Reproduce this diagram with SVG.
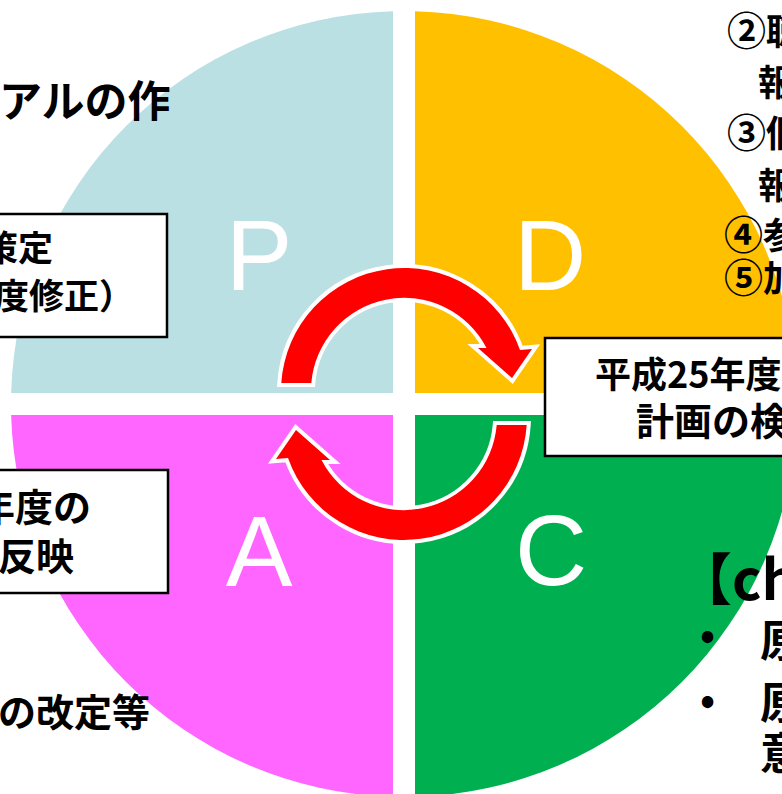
<svg xmlns="http://www.w3.org/2000/svg" width="782" height="794" viewBox="0 0 782 794">
<style>
.q{stroke:none}
.big{font-family:"Liberation Sans",Arial,sans-serif;font-size:100px;fill:#fff}
.jp{font-family:"Noto Sans CJK JP","Noto Sans",sans-serif;font-weight:700;fill:#000}
.num{font-size:39px}
.box{fill:#fff;stroke:#000;stroke-width:2.5}
.arrow{fill:#f00;stroke:#fff;stroke-width:8;stroke-linejoin:miter;paint-order:stroke}
</style>
<rect width="782" height="794" fill="#fff"/>
<g id="quadrant-p">
<path class="q" fill="#bbe0e3" d="M393 393 L393 11.15 A393 393 0 0 0 11.15 393 Z"/>
<text class="big" x="259" y="290" text-anchor="middle">P</text>
</g>
<g id="quadrant-d">
<path class="q" fill="#ffc000" d="M415 393 L415 11.15 A393 393 0 0 1 796.85 393 Z"/>
<text class="big" x="550" y="290" text-anchor="middle">D</text>
</g>
<g id="quadrant-c">
<path class="q" fill="#00b050" d="M415 415 L796.85 415 A393 393 0 0 1 415 796.85 Z"/>
<text class="big" x="551" y="585" text-anchor="middle">C</text>
</g>
<g id="quadrant-a">
<path class="q" fill="#ff66ff" d="M393 415 L393 796.85 A393 393 0 0 1 11.15 415 Z"/>
<text class="big" x="259" y="586" text-anchor="middle">A</text>
</g>
<g id="connectors">
<path class="arrow" d="M526.7 425 A123 123 0 0 1 288 458 L276 459 L296 430 L330 460 L321.5 460 A93 93 0 0 0 496.7 425 Z"/>
<path class="arrow" transform="rotate(180 404 404)" d="M526.7 425 A123 123 0 0 1 288 458 L276 459 L296 430 L330 460 L321.5 460 A93 93 0 0 0 496.7 425 Z"/>
</g>
<g id="plan-notes">
<text class="jp" x="-1" y="117" font-size="43">アルの作</text>
</g>
<g id="plan-box">
<rect class="box" x="-10" y="214" width="177" height="123"/>
<text class="jp" x="-17" y="261" font-size="35">策定</text>
<text class="jp" x="-6" y="309" font-size="35">度修正）</text>
</g>
<g id="act-box">
<rect class="box" x="-10" y="470" width="178" height="123"/>
<text class="jp" x="-23" y="521" font-size="38">年度の</text>
<text class="jp" x="-2" y="570" font-size="38">反映</text>
</g>
<g id="act-notes">
<text class="jp" x="150" y="726" font-size="38" text-anchor="end">の改定等</text>
</g>
<g id="do-notes">
<text class="jp" x="727" y="45" font-size="36"><tspan class="num">②</tspan>聴</text>
<text class="jp" x="758" y="96" font-size="36">報</text>
<text class="jp" x="727" y="147" font-size="36"><tspan class="num">③</tspan>個</text>
<text class="jp" x="758" y="199" font-size="36">報</text>
<text class="jp" x="724" y="249" font-size="36"><tspan class="num">④</tspan>参</text>
<text class="jp" x="724" y="292" font-size="36"><tspan class="num">⑤</tspan>加</text>
</g>
<g id="check-box">
<rect class="box" x="545" y="338" width="260" height="118"/>
<text class="jp" x="595" y="388" font-size="36">平成25年度</text>
<text class="jp" x="636" y="435" font-size="38">計画の検</text>
</g>
<g id="check-notes">
<text class="jp" x="676" y="600" font-size="56">【ch</text>
<text class="jp" x="700" y="649" font-size="40">•</text>
<text class="jp" x="760" y="657" font-size="44">原</text>
<text class="jp" x="700" y="714" font-size="40">•</text>
<text class="jp" x="760" y="719" font-size="44">原</text>
<text class="jp" x="760" y="770" font-size="44">意</text>
</g>
</svg>
